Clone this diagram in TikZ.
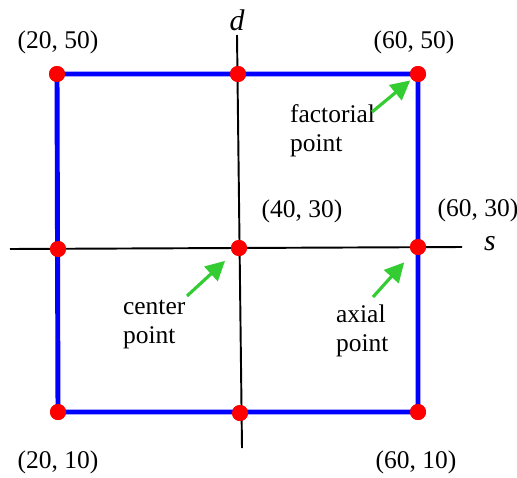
\documentclass[tikz,border=0pt]{standalone}
\usepackage{fontspec}
\setmainfont{Liberation Serif}
\usetikzlibrary{arrows.meta, positioning}
\definecolor{PtRed}{rgb}{1.0, 0.0, 0.0}
\definecolor{EdgeBlue}{rgb}{0.0, 0.0, 1.0}
\definecolor{ArrGreen}{rgb}{0.20, 0.80, 0.20}

\begin{document}
\begin{tikzpicture}[
  x={(0.02cm,0)}, y={(0,-0.02cm)},
  dot/.style={
    circle,
    fill=PtRed,
    inner sep=0pt,
    minimum size=0.32cm
  },
  lbl/.style={
    font=\fontsize{14.5}{16.5}\selectfont,
    inner sep=1pt
  },
  note/.style={lbl, align=left},
  axisline/.style={line width=1.1pt, black},
  edge/.style={line width=2.8pt, EdgeBlue},
  arrow/.style={
    -{Triangle[length=11pt, width=11pt]},
    line width=1.8pt,
    color=ArrGreen
  }
]
\useasboundingbox (0,0) rectangle (517,477);

% Design points
\node[dot] (p11) at (57,74)   {};
\node[dot] (p21) at (238,74)  {};
\node[dot] (p31) at (418,74)  {};
\node[dot] (p12) at (58,249)  {};
\node[dot] (p22) at (239,248) {};
\node[dot] (p32) at (418,247) {};
\node[dot] (p13) at (58,412)  {};
\node[dot] (p23) at (240,413) {};
\node[dot] (p33) at (418,412) {};

% Axes
\coordinate (dtop) at (237,35);
\coordinate (dbot) at (242,448);
\coordinate (sleft) at (10,249);
\coordinate (sright) at (462,247);
\draw[axisline] (dtop) -- (dbot);
\draw[axisline] (sleft) -- (sright);
\node[lbl, font=\fontsize{17}{19}\selectfont\itshape] (dlab) at (237,20) {d};
\node[lbl, font=\fontsize{17}{19}\selectfont\itshape] (slab) at (490,244) {s};

% Square
\draw[edge] (p11.center) -- (p31.center) -- (p33.center) -- (p13.center) -- cycle;

% Points on top
\foreach \p in {p11,p21,p31,p12,p22,p32,p13,p23,p33}
  \node[dot] at (\p) {};

% Coordinate labels
\node[lbl] (c11) at (58,42)   {(20, 50)};
\node[lbl] (c31) at (414,42)  {(60, 50)};
\node[lbl] (c22) at (302,211) {(40, 30)};
\node[lbl] (c32) at (478,210) {(60, 30)};
\node[lbl] (c13) at (58,462)  {(20, 10)};
\node[lbl] (c33) at (416,462) {(60, 10)};

% Notes and arrows
\node[note, anchor=west] (fact) at (288,131) {factorial\\point};
\node[note, anchor=west] (cent) at (121,325) {center\\point};
\node[note, anchor=west] (axia) at (334,331) {axial\\point};

\coordinate (ftail) at (372,112);
\coordinate (ctail) at (187,296);
\coordinate (atail) at (373,297);
\draw[arrow, shorten >=1pt] (ftail) -- (p31);
\draw[arrow, shorten >=6pt] (ctail) -- (p22);
\draw[arrow, shorten >=7pt] (atail) -- (p32);

\end{tikzpicture}
\end{document}
